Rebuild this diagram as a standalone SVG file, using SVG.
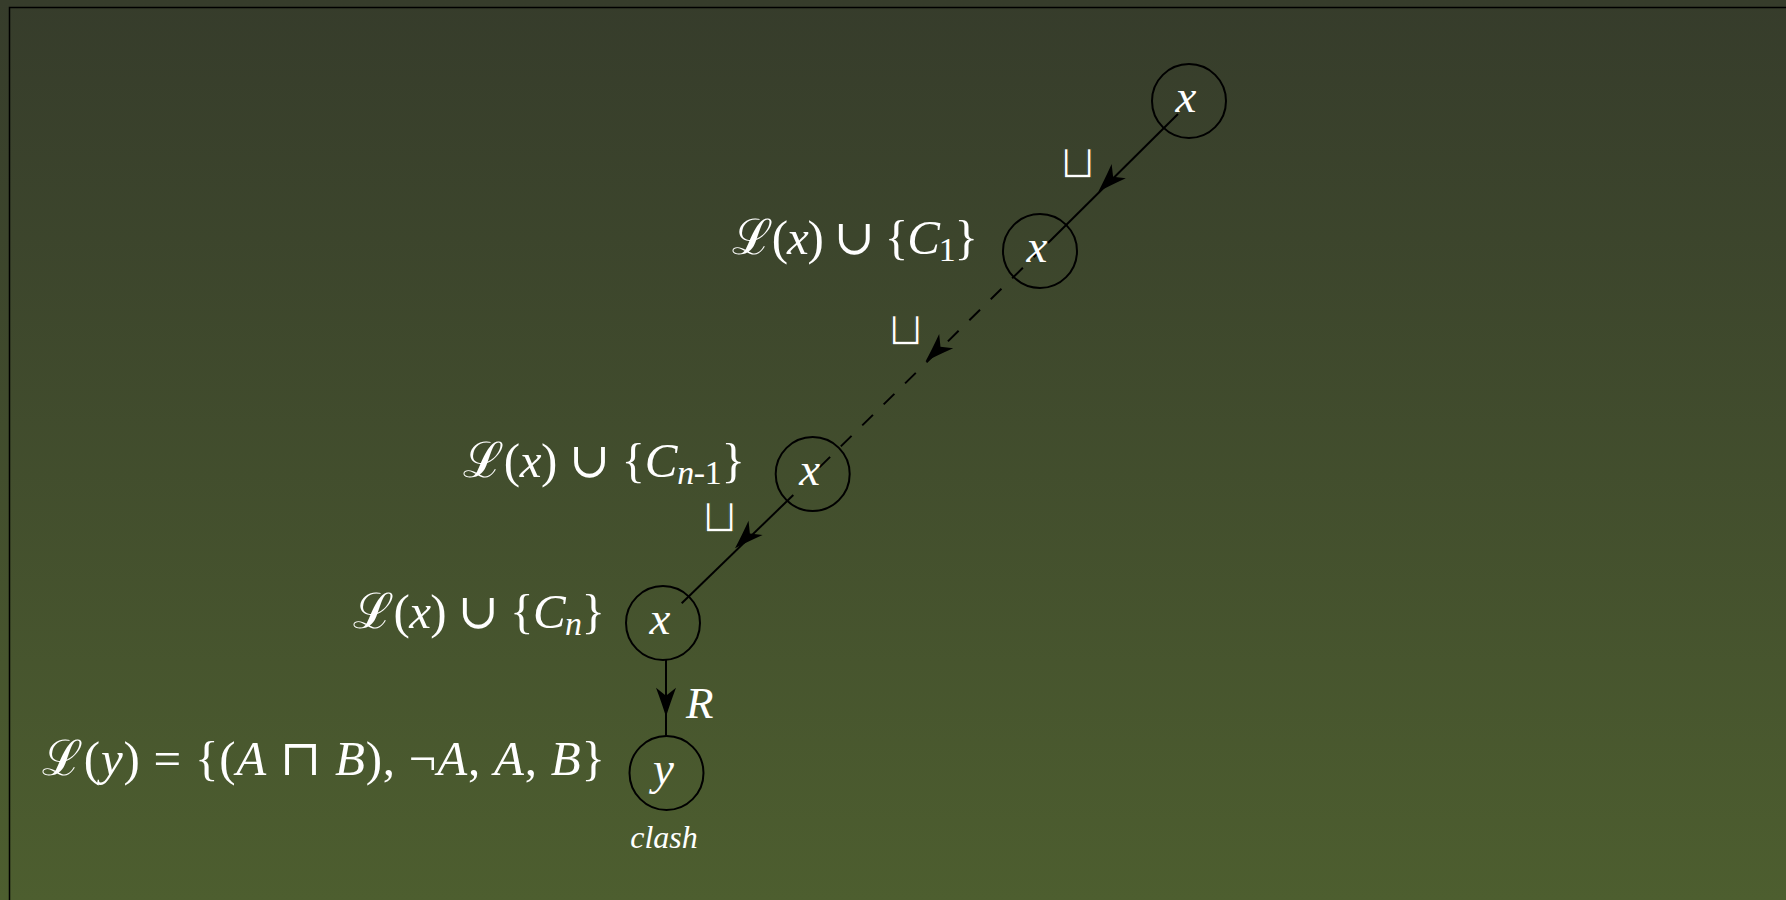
<svg xmlns="http://www.w3.org/2000/svg" xmlns:xlink="http://www.w3.org/1999/xlink" width="1786" height="900" viewBox="0 0 1786 900">
<style>
.node{fill:none;stroke:#000;stroke-width:2}
.edge{fill:none;stroke:#000;stroke-width:2}
.dash{stroke-dasharray:15 15;stroke-dashoffset:6}
.ah{fill:#000}
.nt{font-family:"Liberation Serif","DejaVu Serif",serif;font-style:italic;font-size:47px;fill:#fff;text-anchor:middle}
.lab{font-family:"Liberation Serif","DejaVu Serif",serif;font-size:49px;fill:#fff}
.it{font-style:italic}
.sub{font-size:34px}
.cup{font-family:"DejaVu Sans",sans-serif;font-size:47px;fill:#fff;text-anchor:middle;stroke-width:1.3;paint-order:fill stroke}
.clash{font-family:"Liberation Serif",serif;font-style:italic;font-size:32px;fill:#fff;text-anchor:middle}
</style>
<defs>
<linearGradient id="bg" x1="0" y1="0" x2="0" y2="1">
<stop offset="0" stop-color="#363c2b"/>
<stop offset="1" stop-color="#4d5e2f"/>
</linearGradient>
<path id="ah" d="M0,0 Q-13,-4 -29,-10 L-21,0 L-29,10 Q-13,4 0,0 Z"/>
</defs>
<rect x="0" y="0" width="1786" height="900" fill="url(#bg)"/>
<rect x="9.5" y="7.5" width="1800" height="920" fill="none" stroke="#000" stroke-width="1.5"/>
<g id="connectors">
<line class="edge" x1="1178" y1="114" x2="1048" y2="243"/>
<use class="ah" xlink:href="#ah" href="#ah" transform="translate(1098.3,191.7) rotate(134.8)"/>
<line class="edge dash" x1="1040" y1="251" x2="812.7" y2="474"/>
<use class="ah" xlink:href="#ah" href="#ah" transform="translate(925.5,361.5) rotate(135.5)"/>
<line class="edge" x1="793.3" y1="495" x2="681.7" y2="603.3"/>
<use class="ah" xlink:href="#ah" href="#ah" transform="translate(735,548.3) rotate(135.2)"/>
<line class="edge" x1="666" y1="660" x2="666" y2="736"/>
<use class="ah" xlink:href="#ah" href="#ah" transform="translate(666,716.7) rotate(90)"/>
<text class="cup" x="1077.5" y="177.5" stroke="#3a422c">⊔</text>
<text class="cup" x="905.5" y="344.5" stroke="#3f492c">⊔</text>
<text class="cup" x="719.5" y="531.5" stroke="#43502d">⊔</text>
<text class="lab it" x="686" y="718" style="font-size:45px">R</text>
</g>
<g id="n1">
<circle class="node" cx="1189" cy="101" r="37"/>
<text class="nt" x="1186" y="111.5">x</text>
</g>
<g id="n2">
<circle class="node" cx="1040" cy="251" r="37"/>
<text class="nt" x="1037" y="261.5">x</text>
<text class="lab" x="732" y="254" textLength="246">ℒ(<tspan class="it">x</tspan>) ∪ {<tspan class="it">C</tspan><tspan class="sub" dy="7">1</tspan><tspan dy="-7">}</tspan></text>
</g>
<g id="n3">
<circle class="node" cx="812.7" cy="474" r="37"/>
<text class="nt" x="809.7" y="484.5">x</text>
<text class="lab" x="463" y="477" textLength="282">ℒ(<tspan class="it">x</tspan>) ∪ {<tspan class="it">C</tspan><tspan class="sub it" dy="7">n</tspan><tspan class="sub">-1</tspan><tspan dy="-7">}</tspan></text>
</g>
<g id="n4">
<circle class="node" cx="663" cy="623" r="37"/>
<text class="nt" x="660" y="633.5">x</text>
<text class="lab" x="353" y="628" textLength="252">ℒ(<tspan class="it">x</tspan>) ∪ {<tspan class="it">C</tspan><tspan class="sub it" dy="7">n</tspan><tspan dy="-7">}</tspan></text>
</g>
<g id="n5">
<circle class="node" cx="666.5" cy="773" r="37"/>
<text class="nt" x="663.5" y="783.5">y</text>
<text class="lab" x="42" y="775" textLength="563">ℒ(<tspan class="it">y</tspan>) = {(<tspan class="it">A</tspan> ⊓ <tspan class="it">B</tspan>), ¬<tspan class="it">A</tspan>, <tspan class="it">A</tspan>, <tspan class="it">B</tspan>}</text>
<text class="clash" x="664" y="848">clash</text>
</g>
</svg>
